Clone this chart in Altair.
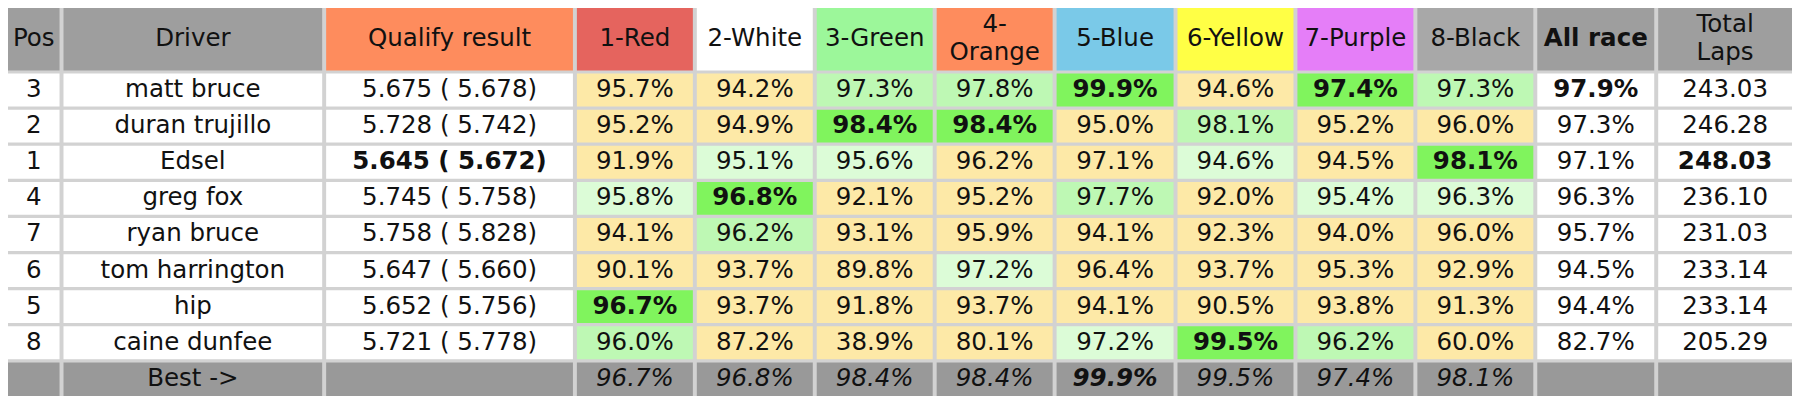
import altair as alt
import pandas as pd

# ---------------- data ----------------
header_labels = ["Pos", "Driver", "Qualify result", "1-Red", "2-White", "3-Green",
                 "4-\nOrange", "5-Blue", "6-Yellow", "7-Purple", "8-Black",
                 "All race", "Total\nLaps"]
positions = [3, 2, 1, 4, 7, 6, 5, 8]
drivers = ["matt bruce", "duran trujillo", "Edsel", "greg fox", "ryan bruce",
           "tom harrington", "hip", "caine dunfee"]
qual_best = [5.675, 5.728, 5.645, 5.745, 5.758, 5.647, 5.652, 5.721]
qual_avg = [5.678, 5.742, 5.672, 5.758, 5.828, 5.660, 5.756, 5.778]

lane_red = [95.7, 95.2, 91.9, 95.8, 94.1, 90.1, 96.7, 96.0]
lane_white = [94.2, 94.9, 95.1, 96.8, 96.2, 93.7, 93.7, 87.2]
lane_green = [97.3, 98.4, 95.6, 92.1, 93.1, 89.8, 91.8, 38.9]
lane_orange = [97.8, 98.4, 96.2, 95.2, 95.9, 97.2, 93.7, 80.1]
lane_blue = [99.9, 95.0, 97.1, 97.7, 94.1, 96.4, 94.1, 97.2]
lane_yellow = [94.6, 98.1, 94.6, 92.0, 92.3, 93.7, 90.5, 99.5]
lane_purple = [97.4, 95.2, 94.5, 95.4, 94.0, 95.3, 93.8, 96.2]
lane_black = [97.3, 96.0, 98.1, 96.3, 96.0, 92.9, 91.3, 60.0]

# highlight level of each lane cell as seen (0 yellow, 1 pale green, 2 green, 3 best)
shade_red = [0, 0, 0, 1, 0, 0, 3, 2]
shade_white = [0, 0, 1, 3, 2, 0, 0, 0]
shade_green = [2, 3, 1, 0, 0, 0, 0, 0]
shade_orange = [2, 3, 0, 0, 0, 1, 0, 0]
shade_blue = [3, 0, 0, 2, 0, 0, 0, 1]
shade_yellow = [0, 2, 1, 0, 0, 0, 0, 3]
shade_purple = [3, 0, 0, 1, 0, 0, 0, 2]
shade_black = [2, 0, 3, 1, 0, 0, 0, 0]

all_race = [97.9, 97.3, 97.1, 96.3, 95.7, 94.5, 94.4, 82.7]
total_laps = [243.03, 246.28, 248.03, 236.10, 231.03, 233.14, 233.14, 205.29]
best_label = "Best ->"

lanes = [lane_red, lane_white, lane_green, lane_orange,
         lane_blue, lane_yellow, lane_purple, lane_black]
shades = [shade_red, shade_white, shade_green, shade_orange,
          shade_blue, shade_yellow, shade_purple, shade_black]

# ---------------- layout / style ----------------
TABLE_W, TABLE_H = 1800, 404
PLOT_W, PLOT_H = 1784, 388
col_left = [0, 56, 321, 574, 695, 816, 937, 1058, 1180, 1301, 1422, 1543, 1665]
col_right = [52, 317, 570, 691, 812, 933, 1054, 1176, 1297, 1418, 1539, 1661, 1800]
HEADER_BOTTOM = 65
ROW_TOP0 = 68.3
ROW_PITCH = 37.6
ROW_H = 34.2
LINE_H = 28  # px between lines of a wrapped header

GRAY = "#9e9e9e"
header_fill = [GRAY, GRAY, "#fe8c5d", "#e5645e", "#ffffff", "#9cf79a", "#fe8c5d",
               "#7ac9e8", "#ffff45", "#e57ef8", "#a8a8a8", GRAY, GRAY]
shade_fill = ["#fde9a7", "#dcfcd7", "#bef8b4", "#80f45d"]
BEST_FILL = "#999999"
GRID = "#d2d2d2"
FONT = "DejaVu Sans"
FS = 24.5

y_unit = PLOT_H / TABLE_H
records = []


def add(c, top, bottom, fill, label, style="normal"):
    nlines = label.count("\n") + 1
    yc = (top + bottom) / 2 - (nlines - 1) * LINE_H / 2 / y_unit
    records.append({
        "x0": col_left[c], "x1": col_right[c], "y0": top, "y1": bottom,
        "fill": fill, "label": label, "style": style,
        "xc": (col_left[c] + col_right[c]) / 2, "yc": yc,
    })


# header
for c, lab in enumerate(header_labels):
    add(c, 0, HEADER_BOTTOM, header_fill[c], lab, "bold" if lab == "All race" else "normal")

q_min = min(qual_best)
ar_max = max(all_race)
tl_max = max(total_laps)
for r in range(len(drivers)):
    top = ROW_TOP0 + r * ROW_PITCH
    bot = top + ROW_H
    add(0, top, bot, "#ffffff", str(positions[r]))
    add(1, top, bot, "#ffffff", drivers[r])
    add(2, top, bot, "#ffffff", f"{qual_best[r]:.3f} ( {qual_avg[r]:.3f})",
        "bold" if qual_best[r] == q_min else "normal")
    for k in range(8):
        s = shades[k][r]
        add(3 + k, top, bot, shade_fill[s], f"{lanes[k][r]:.1f}%",
            "bold" if s == 3 else "normal")
    add(11, top, bot, "#ffffff", f"{all_race[r]:.1f}%",
        "bold" if all_race[r] == ar_max else "normal")
    add(12, top, bot, "#ffffff", f"{total_laps[r]:.2f}",
        "bold" if total_laps[r] == tl_max else "normal")

# best row
top = ROW_TOP0 + len(drivers) * ROW_PITCH
bot = TABLE_H + 5
lane_best = [max(v) for v in lanes]
overall = max(lane_best)
for c in range(13):
    if c == 1:
        add(c, top, TABLE_H - 1, BEST_FILL, best_label)
        records[-1]["y1"] = bot
    elif 3 <= c <= 10:
        v = lane_best[c - 3]
        add(c, top, TABLE_H - 1, BEST_FILL, f"{v:.1f}%",
            "bolditalic" if v == overall else "italic")
        records[-1]["y1"] = bot
    else:
        add(c, top, bot, BEST_FILL, "")

df = pd.DataFrame(records)

xs = alt.Scale(domain=[0, TABLE_W], range=[0, PLOT_W], nice=False, zero=False)
ys = alt.Scale(domain=[0, TABLE_H], range=[0, PLOT_H], nice=False, zero=False)

rects = alt.Chart(df).mark_rect(clip=True).encode(
    x=alt.X("x0:Q", scale=xs, axis=None),
    x2="x1:Q",
    y=alt.Y("y0:Q", scale=ys, axis=None),
    y2="y1:Q",
    color=alt.Color("fill:N", scale=None),
)


def text_layer(style, weight, fstyle):
    return alt.Chart(df).transform_filter(
        (alt.datum.style == style) & (alt.datum.label != "")
    ).mark_text(
        font=FONT, fontSize=FS, fontWeight=weight, fontStyle=fstyle,
        align="center", baseline="middle", lineBreak="\n", lineHeight=LINE_H,
        color="#111111",
    ).encode(
        x=alt.X("xc:Q", scale=xs, axis=None),
        y=alt.Y("yc:Q", scale=ys, axis=None),
        text="label:N",
    )


chart = alt.layer(
    rects,
    text_layer("normal", "normal", "normal"),
    text_layer("bold", "bold", "normal"),
    text_layer("italic", "normal", "italic"),
    text_layer("bolditalic", "bold", "italic"),
).properties(
    width=PLOT_W, height=PLOT_H, padding=0,
    autosize=alt.AutoSizeParams(type="none"),
    background=GRID,
).configure_view(stroke=None)

chart.save("out.html", embed_options={"renderer": "svg", "actions": False})
